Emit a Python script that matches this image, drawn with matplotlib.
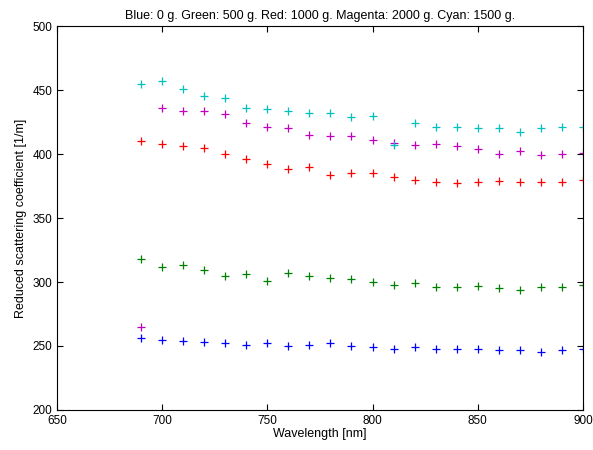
import numpy as np
import matplotlib
matplotlib.use('Agg')
import matplotlib.pyplot as plt

plt.rcParams['font.family'] = ['Liberation Sans', 'DejaVu Sans']

wavelength = list(range(690, 901, 10))

blue_0g = [256, 255, 254, 253, 252, 251, 252, 250, 251, 252, 250,
           249, 248, 249, 248, 248, 248, 247, 247, 245, 247, 248]
green_500g = [318, 312, 313, 309, 305, 306, 301, 307, 305, 303, 302,
              300, 298, 299, 296, 296, 297, 295, 294, 296, 296, 298]
red_1000g = [410, 408, 406, 405, 400, 396, 392, 388, 390, 384, 385,
             385, 382, 380, 378, 377, 378, 379, 378, 378, 378, 380]
magenta_2000g = [265, 436, 434, 434, 431, 424, 421, 420, 415, 414, 414,
                 411, 409, 407, 408, 406, 404, 400, 402, 399, 400, 401]
cyan_1500g = [455, 457, 451, 445, 444, 436, 435, 434, 432, 432, 429,
              430, 407, 424, 421, 421, 420, 420, 417, 420, 421, 421]

series = [
    (blue_0g, (0, 0, 1)),
    (green_500g, (0, 0.5, 0)),
    (red_1000g, (1, 0, 0)),
    (magenta_2000g, (0.75, 0, 0.75)),
    (cyan_1500g, (0, 0.75, 0.75)),
]

fig = plt.figure(figsize=(5.93, 4.5), dpi=100)
ax = fig.add_axes([0.096, 0.089, 0.887, 0.853])

for vals, col in series:
    ax.plot(wavelength, vals, '+', color=col, markersize=6, markeredgewidth=0.9)

ax.set_xlim(650, 900)
ax.set_ylim(200, 500)
ax.set_xticks(range(650, 901, 50))
ax.set_yticks(range(200, 501, 50))
ax.tick_params(direction='in', top=True, right=True, labelsize=8.5, length=4)
ax.set_xlabel('Wavelength [nm]', fontsize=9, labelpad=1)
ax.set_ylabel('Reduced scattering coefficient [1/m]', fontsize=9, labelpad=4)
ax.set_title('Blue: 0 g. Green: 500 g. Red: 1000 g. Magenta: 2000 g. Cyan: 1500 g.',
             fontsize=9, pad=5)

fig.savefig('out.png', dpi=100)
